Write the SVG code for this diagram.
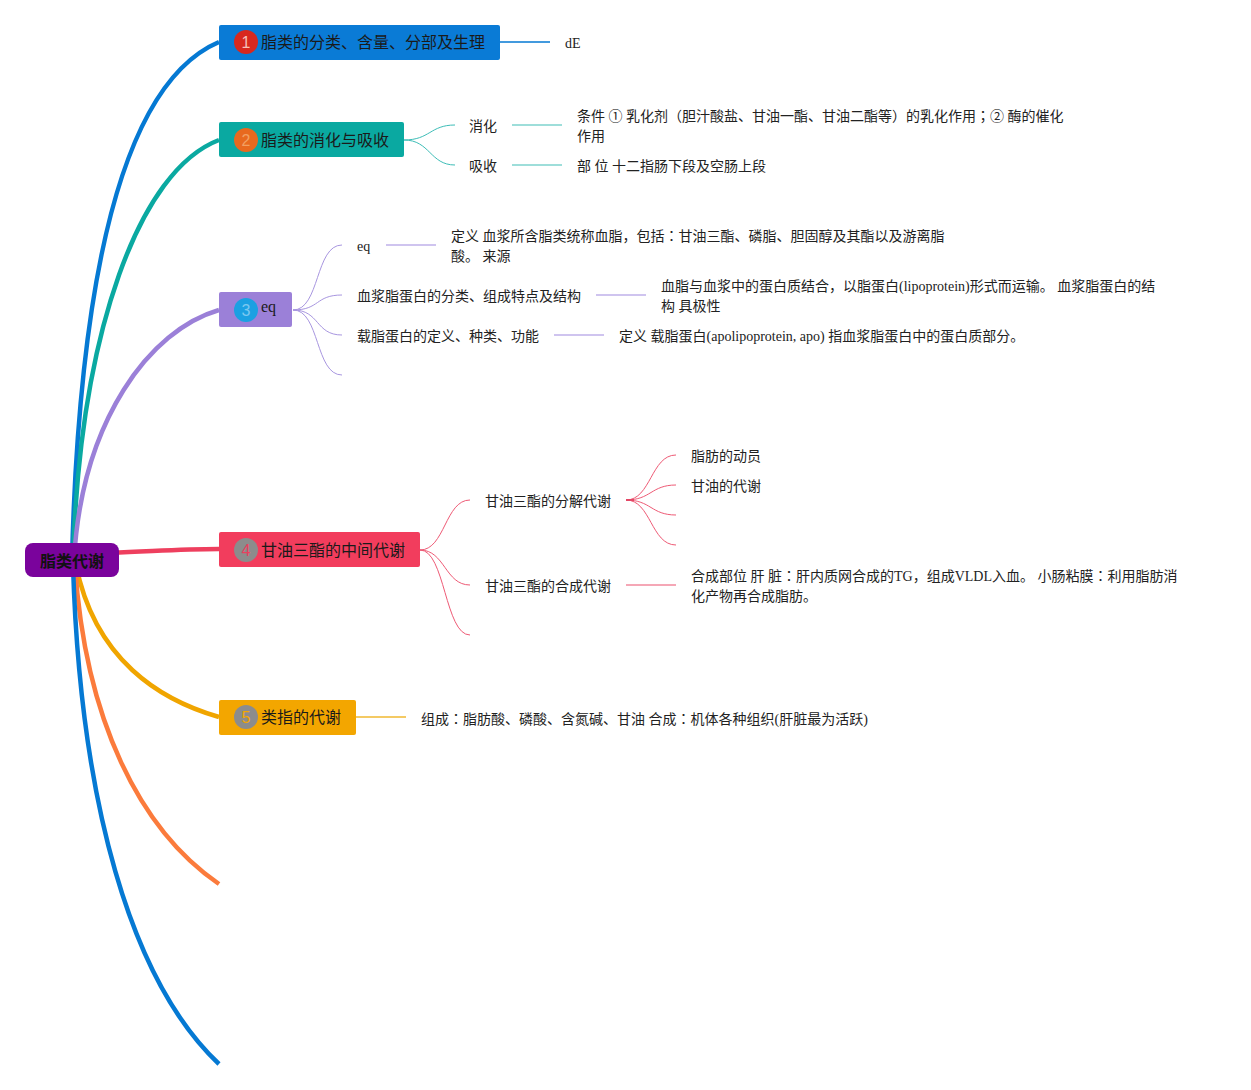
<svg xmlns="http://www.w3.org/2000/svg" width="1251" height="1090" viewBox="0 0 1251 1090">
<style>
.main{fill:none;stroke-width:4.5;stroke-linecap:butt}
.sub{fill:none;stroke-width:1}
.lin{fill:none;stroke-width:1.5}
.nt{font-family:"Noto Sans CJK SC","Liberation Sans",sans-serif;font-size:16px;fill:#1a1a1a}
.ct{font-family:"Liberation Serif","Noto Sans CJK SC",serif;font-size:14px;fill:#222}
.sm{font-family:"Liberation Serif","Noto Sans CJK SC",serif;font-size:14px;fill:#222}
.jp{font-family:"Noto Sans CJK JP",sans-serif}
.num{font-family:"Liberation Sans","Noto Sans",sans-serif;font-size:16px;text-anchor:middle}
</style>
<rect width="1251" height="1090" fill="#ffffff"/>
<g id="connectors">
<path class="main" stroke="#0579D3" d="M72,560 C80,250 130,80 219,42"/>
<path class="main" stroke="#0AA9A1" d="M73,560 C80,330 140,170 219,140"/>
<path class="main" stroke="#9B80D8" d="M74,560 C82,420 150,330 219,310"/>
<path class="main" stroke="#EE3F5E" d="M110,553 C160,551 180,549 219,549"/>
<path class="main" stroke="#F0A500" d="M76,565 C95,660 160,700 219,717"/>
<path class="main" stroke="#FB7B3C" d="M75,565 C85,720 140,830 219,884"/>
<path class="main" stroke="#0579D3" d="M73,565 C80,800 130,980 219,1064"/>
<path class="lin" stroke="#0579D3" stroke-width="1" d="M500,42 L550,42"/>
<path class="sub" stroke="#3DBDB7" d="M404,140 C430,140 430,125 455,125"/>
<path class="sub" stroke="#3DBDB7" d="M404,140 C430,140 430,165 455,165"/>
<path class="lin" stroke="#7ED3CE" d="M512,125 L562,125"/>
<path class="lin" stroke="#7ED3CE" d="M512,165 L562,165"/>
<path class="sub" stroke="#A896E0" d="M293,310 C320,310 315,245 342,245"/>
<path class="sub" stroke="#A896E0" d="M293,310 C320,310 315,295 342,295"/>
<path class="sub" stroke="#A896E0" d="M293,310 C320,310 315,335 342,335"/>
<path class="sub" stroke="#A896E0" d="M293,310 C320,310 315,375 342,375"/>
<path class="lin" stroke="#BFB0EA" d="M386,245 L436,245"/>
<path class="lin" stroke="#BFB0EA" d="M596,295 L646,295"/>
<path class="lin" stroke="#BFB0EA" d="M554,335 L604,335"/>
<path class="sub" stroke="#EE5A75" d="M420,550 C445,550 445,500 470,500"/>
<path class="sub" stroke="#EE5A75" d="M420,550 C445,550 445,585 470,585"/>
<path class="sub" stroke="#EE5A75" d="M420,550 C445,550 445,635 470,635"/>
<path class="sub" stroke="#EE5A75" d="M626,500 C651,500 651,455 676,455"/>
<path class="sub" stroke="#EE5A75" d="M626,500 C651,500 651,485 676,485"/>
<path class="sub" stroke="#EE5A75" d="M626,500 C651,500 651,515 676,515"/>
<path class="sub" stroke="#EE5A75" d="M626,500 C651,500 651,545 676,545"/>
<path class="lin" stroke="#E04060" stroke-width="2.5" d="M626,500 L634,500"/>
<path class="lin" stroke="#F28A9E" d="M626,585 L676,585"/>
<path class="lin" stroke="#F0B830" stroke-width="1" d="M356,717 L406,717"/>
</g>
<g id="root">
<rect x="25" y="543" width="94" height="34" rx="8" fill="#7A039C"/>
<text x="72" y="567" text-anchor="middle" font-family="Noto Sans CJK SC,sans-serif" font-size="16" font-weight="bold" fill="#111">脂类代谢</text>
</g>
<g id="node1">
<rect x="219" y="25" width="281" height="35" rx="2" fill="#0A7BD6"/>
<circle cx="246" cy="42" r="12" fill="#D8281E"/>
<text class="num" x="246" y="48" fill="#F5C0B8">1</text>
<text class="nt" x="261" y="48">脂类的分类、含量、分部及生理</text>
</g>
<g id="n1c1"><text class="sm" x="565" y="48">dE</text></g>
<g id="node2">
<rect x="219" y="122" width="185" height="35" rx="2" fill="#0AA9A1"/>
<circle cx="246" cy="140" r="12" fill="#E8691E"/>
<text class="num" x="246" y="146" fill="#F2A062">2</text>
<text class="nt" x="261" y="146">脂类的消化与吸收</text>
</g>
<g id="n2c1"><text class="ct" x="469" y="131">消化</text></g>
<g id="n2c2"><text class="ct" x="469" y="171">吸收</text></g>
<g id="n2c1d"><text class="ct" x="577" y="121">条件 ① 乳化剂（胆汁酸盐、甘油一酯、甘油二酯等）的乳化作用<tspan class="jp">；</tspan>② 酶的催化</text><text class="ct" x="577" y="141">作用</text></g>
<g id="n2c2d"><text class="ct" x="577" y="171">部 位 十二指肠下段及空肠上段</text></g>
<g id="node3">
<rect x="219" y="292" width="73" height="35" rx="2" fill="#9B80D8"/>
<circle cx="246" cy="310" r="12" fill="#1BA0E2"/>
<text class="num" x="246" y="316" fill="#7CC8F0">3</text>
<text x="261" y="312" font-family="Liberation Serif,serif" font-size="16" fill="#1a1a1a">eq</text>
</g>
<g id="n3c1"><text class="sm" x="357" y="251">eq</text></g>
<g id="n3c2"><text class="ct" x="357" y="301">血浆脂蛋白的分类、组成特点及结构</text></g>
<g id="n3c3"><text class="ct" x="357" y="341">载脂蛋白的定义、种类、功能</text></g>
<g id="n3c1d"><text class="ct" x="451" y="241">定义 血浆所含脂类统称血脂，包括<tspan class="jp">：</tspan>甘油三酯、磷脂、胆固醇及其酯以及游离脂</text><text class="ct" x="451" y="261">酸。 来源</text></g>
<g id="n3c2d"><text class="ct" x="661" y="291">血脂与血浆中的蛋白质结合，以脂蛋白(lipoprotein)形式而运输。 血浆脂蛋白的结</text><text class="ct" x="661" y="311">构 具极性</text></g>
<g id="n3c3d"><text class="ct" x="619" y="341">定义 载脂蛋白(apolipoprotein, apo) 指血浆脂蛋白中的蛋白质部分。</text></g>
<g id="node4">
<rect x="219" y="532" width="201" height="35" rx="2" fill="#F23D5D"/>
<circle cx="246" cy="550" r="12" fill="#8C8C8C"/>
<text class="num" x="246" y="556" fill="#E8405E">4</text>
<text class="nt" x="261" y="556">甘油三酯的中间代谢</text>
</g>
<g id="n4c1"><text class="ct" x="485" y="506">甘油三酯的分解代谢</text></g>
<g id="n4c2"><text class="ct" x="485" y="591">甘油三酯的合成代谢</text></g>
<g id="n4c1a"><text class="ct" x="691" y="461">脂肪的动员</text></g>
<g id="n4c1b"><text class="ct" x="691" y="491">甘油的代谢</text></g>
<g id="n4c2d"><text class="ct" x="691" y="581">合成部位 肝 脏<tspan class="jp">：</tspan>肝内质网合成的TG，组成VLDL入血。 小肠粘膜<tspan class="jp">：</tspan>利用脂肪消</text><text class="ct" x="691" y="601">化产物再合成脂肪。</text></g>
<g id="node5">
<rect x="219" y="700" width="137" height="35" rx="2" fill="#F3A600"/>
<circle cx="246" cy="717" r="12" fill="#8C8C8C"/>
<text class="num" x="246" y="723" fill="#F3A600">5</text>
<text class="nt" x="261" y="723">类指的代谢</text>
</g>
<g id="n5c1"><text class="ct" x="421" y="724">组成<tspan class="jp">：</tspan>脂肪酸、磷酸、含氮碱、甘油 合成<tspan class="jp">：</tspan>机体各种组织(肝脏最为活跃)</text></g>
</svg>
